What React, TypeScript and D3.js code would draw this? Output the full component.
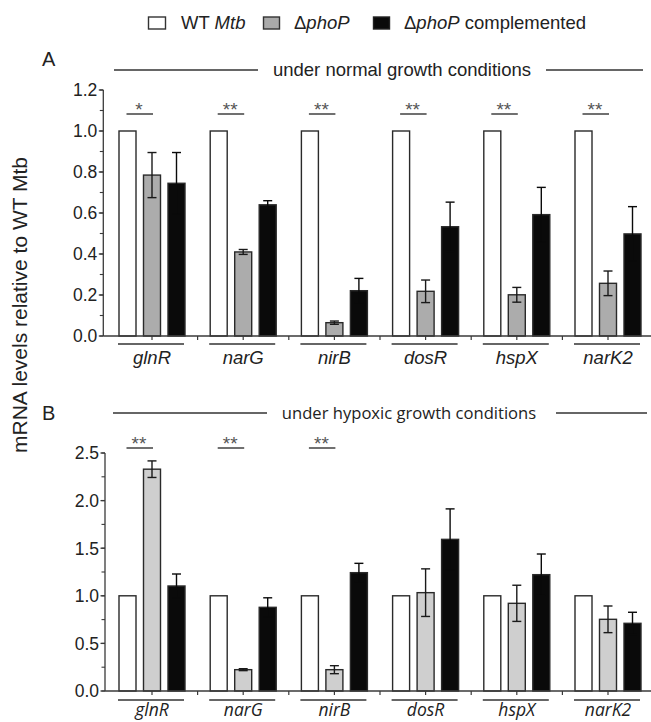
import React from 'react';
import { scaleBand, scaleLinear, range } from 'd3';

// genes on the x axis
const genes = ['glnR', 'narG', 'nirB', 'dosR', 'hspX', 'narK2'];
const strains = ['wt', 'phoP', 'comp'];

// A: normal growth
const normalWT = [1, 1, 1, 1, 1, 1];
const normalPhoP = [0.785, 0.41, 0.065, 0.218, 0.201, 0.257];
const normalPhoPErr = [0.11, 0.012, 0.008, 0.055, 0.036, 0.06];
const normalComp = [0.745, 0.64, 0.221, 0.533, 0.592, 0.498];
const normalCompErr = [0.15, 0.02, 0.06, 0.12, 0.133, 0.133];
const normalSig = ['*', '**', '**', '**', '**', '**'];

// B: hypoxic growth
const hypoxWT = [1, 1, 1, 1, 1, 1];
const hypoxPhoP = [2.33, 0.224, 0.224, 1.033, 0.921, 0.753];
const hypoxPhoPErr = [0.087, 0.01, 0.042, 0.25, 0.19, 0.14];
const hypoxComp = [1.103, 0.879, 1.243, 1.593, 1.222, 0.711];
const hypoxCompErr = [0.126, 0.1, 0.098, 0.32, 0.217, 0.116];
const hypoxSig = ['**', '**', '**', '', '', ''];

const ARIAL = '"Liberation Sans", Arial, sans-serif';
const SEGOE = '"Open Sans", "Liberation Sans", sans-serif';
const INK = '#222';
const AXIS = '#3a3a3a';

const x = scaleBand().domain(genes).range([106.4, 653.6]);
const xs = scaleBand().domain(strains).range([-33, 33]).paddingInner(0.306);

function Panel(props) {
  const { y, yMax, major, minor, values, errs, sig, gray, sigY, lineY, labelY, geneFont, geneSize, axisX, tickFmt } = props;
  const y0 = y(0);
  const majors = range(0, yMax + 1e-9, major);
  const minors = range(0, yMax + 1e-9, minor);
  const seps = genes.slice(1).map(g => x(g));
  const fills = ['#fff', gray, '#0a0a0a'];
  return (
    <g>
      {/* bars */}
      {genes.map((g, i) => {
        const cx = x(g) + x.bandwidth() / 2;
        return (
          <g key={g}>
            {strains.map((s, k) => {
              const v = values[k][i];
              const e = errs[k] ? errs[k][i] : 0;
              const bx = cx + xs(s);
              const bw = xs.bandwidth();
              return (
                <g key={s}>
                  <rect x={bx} y={y(v)} width={bw} height={y0 - y(v)} fill={fills[k]} stroke="#2a2a2a" strokeWidth={1.4} />
                  {e > 0 && (
                    <g stroke={k === 2 ? '#0a0a0a' : '#1a1a1a'} strokeWidth={1.4}>
                      <line x1={bx + bw / 2} x2={bx + bw / 2} y1={y(v - e)} y2={y(v + e)} />
                      <line x1={bx + bw / 2 - 4.5} x2={bx + bw / 2 + 4.5} y1={y(v + e)} y2={y(v + e)} />
                      <line x1={bx + bw / 2 - 4.5} x2={bx + bw / 2 + 4.5} y1={y(v - e)} y2={y(v - e)} />
                    </g>
                  )}
                </g>
              );
            })}
            {sig[i] && (
              <g>
                <line x1={cx + xs('wt') + xs.bandwidth() / 2 - 1} x2={cx + xs('phoP') + xs.bandwidth() / 2 + 1} y1={sigY} y2={sigY} stroke="#333" strokeWidth={1.4} />
                <text x={cx - 13} y={sigY + 1.5} textAnchor="middle" fontFamily={ARIAL} fontSize={19} fill="#555">{sig[i]}</text>
              </g>
            )}
            <line x1={cx - 34} x2={cx + 32} y1={lineY} y2={lineY} stroke="#333" strokeWidth={1.5} />
            <text x={cx} y={labelY} textAnchor="middle" fontFamily={geneFont} fontStyle="italic" fontSize={geneSize} fill={INK}>{g}</text>
          </g>
        );
      })}
      {/* y axis */}
      <line x1={axisX} x2={axisX} y1={y(yMax)} y2={y0} stroke={AXIS} strokeWidth={1.3} />
      {minors.map(t => (
        <line key={'m' + t} x1={axisX - 3.5} x2={axisX} y1={y(t)} y2={y(t)} stroke={AXIS} strokeWidth={1.1} />
      ))}
      {majors.map(t => (
        <g key={'t' + t}>
          <line x1={axisX - 4.5} x2={axisX} y1={y(t)} y2={y(t)} stroke={AXIS} strokeWidth={1.3} />
          <text x={axisX - 6} y={y(t)} dy="0.36em" textAnchor="end" fontFamily={ARIAL} fontSize={17.5} fill={INK}>{tickFmt(t)}</text>
        </g>
      ))}
      {/* x axis */}
      <line x1={axisX} x2={651} y1={y0} y2={y0} stroke={AXIS} strokeWidth={1.3} />
      {genes.map(g => (
        <line key={'c' + g} x1={x(g) + x.bandwidth() / 2} x2={x(g) + x.bandwidth() / 2} y1={y0} y2={y0 + 4} stroke={AXIS} strokeWidth={1.2} />
      ))}
      {seps.map(s => (
        <line key={'s' + s} x1={s} x2={s} y1={y0} y2={y0 + 4} stroke={AXIS} strokeWidth={1.2} />
      ))}
    </g>
  );
}

export default function App() {
  const yA = scaleLinear().domain([0, 1.2]).range([336, 90]);
  const yB = scaleLinear().domain([0, 2.5]).range([691, 453]);
  const fmt = t => t.toFixed(1);
  return (
    <svg width={651} height={722} style={{ position: 'absolute', left: 0, top: 0, background: '#fff' }}>
      <rect width={651} height={722} fill="#fff" />
      {/* legend */}
      <g fontFamily={ARIAL} fontSize={18.5} fill={INK}>
        <rect x={148.5} y={17} width={17} height={12} fill="#fff" stroke="#333" strokeWidth={1.4} />
        <text x={181} y={29}>WT <tspan fontStyle="italic">Mtb</tspan></text>
        <rect x={263.5} y={17} width={16} height={12} fill="#aaa" stroke="#333" strokeWidth={1.4} />
        <text x={294} y={29}>Δ<tspan fontStyle="italic">phoP</tspan></text>
        <rect x={373.5} y={17} width={16} height={12} fill="#0a0a0a" stroke="#222" strokeWidth={1.4} />
        <text x={404} y={29}>Δ<tspan fontStyle="italic">phoP</tspan> complemented</text>
      </g>

      {/* panel A header */}
      <text x={42} y={66} fontFamily={ARIAL} fontSize={20} fill={INK}>A</text>
      <line x1={114} x2={258} y1={70} y2={70} stroke="#333" strokeWidth={1.5} />
      <text x={402} y={76} textAnchor="middle" fontFamily={ARIAL} fontSize={18.5} fill={INK}>under normal growth conditions</text>
      <line x1={546} x2={643} y1={70} y2={70} stroke="#333" strokeWidth={1.5} />

      <Panel y={yA} yMax={1.2} major={0.2} minor={0.1}
        values={[normalWT, normalPhoP, normalComp]} errs={[null, normalPhoPErr, normalCompErr]}
        sig={normalSig} gray="#acacac" sigY={114} lineY={344} labelY={364} geneFont={ARIAL} geneSize={18.5} axisX={103.3} tickFmt={fmt} />

      {/* panel B header */}
      <text x={42} y={420} fontFamily={ARIAL} fontSize={20} fill={INK}>B</text>
      <line x1={113} x2={267} y1={413} y2={413} stroke="#333" strokeWidth={1.5} />
      <text x={409} y={419} textAnchor="middle" fontFamily={SEGOE} fontSize={16.6} fill={INK}>under hypoxic growth conditions</text>
      <line x1={556} x2={647} y1={413} y2={413} stroke="#333" strokeWidth={1.5} />

      <Panel y={yB} yMax={2.5} major={0.5} minor={0.25}
        values={[hypoxWT, hypoxPhoP, hypoxComp]} errs={[null, hypoxPhoPErr, hypoxCompErr]}
        sig={hypoxSig} gray="#cfcfcf" sigY={448} lineY={700} labelY={716} geneFont={SEGOE} geneSize={17.5} axisX={105} tickFmt={fmt} />

      {/* y label */}
      <text transform="translate(27,305) rotate(-90)" textAnchor="middle" fontFamily={ARIAL} fontSize={21} fill={INK}>mRNA levels relative to WT Mtb</text>
    </svg>
  );
}
